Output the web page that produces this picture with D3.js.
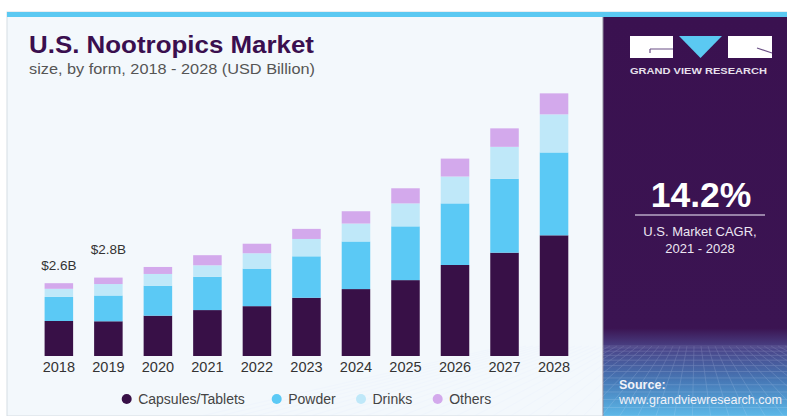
<!DOCTYPE html>
<html>
<head>
<meta charset="utf-8">
<script src="https://cdn.jsdelivr.net/npm/d3@7"></script>
<style>
  html, body { margin: 0; padding: 0; background: #ffffff; }
  svg { display: block; }
  text { font-family: "Liberation Sans", Arial, sans-serif; }
</style>
</head>
<body>
<svg id="chart" width="787" height="416"></svg>
<script>
// U.S. nootropics market size by form (USD billion)
const years = ["2018", "2019", "2020", "2021", "2022", "2023", "2024", "2025", "2026", "2027", "2028"];
const capsules = [1.25, 1.24, 1.44, 1.64, 1.78, 2.08, 2.39, 2.71, 3.25, 3.69, 4.31];
const powder   = [0.86, 0.92, 1.07, 1.19, 1.34, 1.48, 1.70, 1.92, 2.20, 2.64, 2.96];
const drinks   = [0.29, 0.41, 0.42, 0.41, 0.55, 0.62, 0.64, 0.82, 0.96, 1.14, 1.36];
const others   = [0.20, 0.23, 0.25, 0.36, 0.34, 0.36, 0.44, 0.54, 0.64, 0.66, 0.75];
const seriesNames = ["Capsules/Tablets", "Powder", "Drinks", "Others"];
const valueLabels = [{ year: "2018", text: "$2.6B" }, { year: "2019", text: "$2.8B" }];
const cagrValue = "14.2%";
const cagrLines = ["U.S. Market CAGR,", "2021 - 2028"];

const colors = ["#381047", "#5bc9f5", "#bfe8f9", "#d3a9ec"];

const svg = d3.select("#chart");

// ---- frame ----
svg.append("rect").attr("x", 7).attr("y", 12).attr("width", 780).attr("height", 404)
  .attr("fill", "#f3f8fc").attr("stroke", "#d5dde3").attr("stroke-width", 1);
svg.append("rect").attr("x", 7).attr("y", 12).attr("width", 780).attr("height", 5).attr("fill", "#5bc9f2");

// ---- right panel ----
const defs = svg.append("defs");
const grad = defs.append("linearGradient").attr("id", "panelGrad").attr("x1", 0).attr("y1", 0).attr("x2", 0).attr("y2", 1);
grad.append("stop").attr("offset", "0%").attr("stop-color", "#3a1150");
grad.append("stop").attr("offset", "78%").attr("stop-color", "#3b1452");
grad.append("stop").attr("offset", "83%").attr("stop-color", "#4a4488");
grad.append("stop").attr("offset", "91%").attr("stop-color", "#4677b5");
grad.append("stop").attr("offset", "100%").attr("stop-color", "#5cb8e8");

const px0 = 603, py0 = 17, pw = 184, ph = 399;
svg.append("rect").attr("x", px0).attr("y", py0).attr("width", pw).attr("height", ph).attr("fill", "url(#panelGrad)");
svg.append("line").attr("x1", px0).attr("x2", px0).attr("y1", py0).attr("y2", 416).attr("stroke", "#8f8a9c").attr("stroke-width", 1);

// wireframe floor at the bottom of the panel
const floor = svg.append("g").attr("opacity", 0.22).attr("stroke", "#dfe9ff").attr("stroke-width", 0.7).attr("fill", "none");
const hor = d3.range(0, 14).map(i => 346 + Math.pow(i, 1.45) * 1.9);
hor.forEach(y => { if (y < 416) floor.append("line").attr("x1", px0).attr("x2", 787).attr("y1", y).attr("y2", y); });
d3.range(-14, 30).forEach(i => {
  const xt = px0 + i * 7;
  const xb = 695 + (xt - 695) * 2.6;
  floor.append("line").attr("x1", xt).attr("y1", 346).attr("x2", xb).attr("y2", 416);
});

// logo
const logo = svg.append("g");
logo.append("rect").attr("x", 630).attr("y", 36).attr("width", 43).attr("height", 22).attr("fill", "#ffffff");
logo.append("path").attr("d", "M650,49 L673,49 M650,49 L650,53").attr("stroke", "#6b4f85").attr("stroke-width", 1.2).attr("fill", "none");
logo.append("path").attr("d", "M679,36 L722,36 L700.5,58 Z").attr("fill", "#5bc9f2");
logo.append("rect").attr("x", 728).attr("y", 36).attr("width", 44).attr("height", 22).attr("fill", "#ffffff");
logo.append("path").attr("d", "M757,48 L772,53").attr("stroke", "#6b4f85").attr("stroke-width", 1.2).attr("fill", "none");
logo.append("text").attr("x", 630).attr("y", 73.5).attr("font-size", 8.6).attr("font-weight", "bold")
  .attr("fill", "#e6e0ec").attr("textLength", 137).attr("lengthAdjust", "spacingAndGlyphs").text("GRAND VIEW RESEARCH");

// CAGR callout
svg.append("text").attr("x", 701).attr("y", 206.5).attr("text-anchor", "middle")
  .attr("font-size", 35.5).attr("font-weight", "bold").attr("fill", "#ffffff").text(cagrValue);
svg.append("line").attr("x1", 635).attr("x2", 765).attr("y1", 215).attr("y2", 215).attr("stroke", "#b9a9c6").attr("stroke-width", 1.4);
cagrLines.forEach((t, i) => {
  svg.append("text").attr("x", 700).attr("y", 236 + i * 17).attr("text-anchor", "middle")
    .attr("font-size", 13).attr("fill", "#ece6f1").text(t);
});

// source
svg.append("text").attr("x", 619).attr("y", 388.5).attr("font-size", 12.5).attr("font-weight", "bold").attr("fill", "#f2f2f8").text("Source:");
svg.append("text").attr("x", 619).attr("y", 403.5).attr("font-size", 12.2).attr("fill", "#f2f2f8")
  .attr("textLength", 163).attr("lengthAdjust", "spacingAndGlyphs").text("www.grandviewresearch.com");

// ---- titles ----
svg.append("text").attr("x", 29).attr("y", 53.3).attr("font-size", 24).attr("font-weight", "bold").attr("fill", "#3a0f4f")
  .attr("textLength", 285).attr("lengthAdjust", "spacingAndGlyphs").text("U.S. Nootropics Market");
svg.append("text").attr("x", 29).attr("y", 74).attr("font-size", 14.5).attr("fill", "#555555")
  .attr("textLength", 286).attr("lengthAdjust", "spacingAndGlyphs").text("size, by form, 2018 - 2028 (USD Billion)");

// ---- stacked bars ----
const rows = years.map((y, i) => ({
  year: y,
  "Capsules/Tablets": capsules[i],
  "Powder": powder[i],
  "Drinks": drinks[i],
  "Others": others[i]
}));
const stack = d3.stack().keys(seriesNames)(rows);

const x = d3.scaleBand().domain(years).range([34.1, 578.8]).paddingInner(0.424).paddingOuter(0.212);
const y = d3.scaleLinear().domain([0, 10]).range([356, 76]);

const barG = svg.append("g");
stack.forEach((layer, k) => {
  barG.append("g").attr("fill", colors[k])
    .selectAll("rect").data(layer).join("rect")
    .attr("x", d => x(d.data.year))
    .attr("width", x.bandwidth())
    .attr("y", d => y(d[1]))
    .attr("height", d => y(d[0]) - y(d[1]));
});

// x axis (labels only)
const xAxis = svg.append("g").attr("transform", "translate(0,357)")
  .call(d3.axisBottom(x).tickSize(0).tickPadding(5));
xAxis.select(".domain").remove();
xAxis.selectAll("text").attr("font-size", 14.5).attr("fill", "#333333")
  .style("font-family", "'Liberation Sans', Arial, sans-serif");

// value labels above the first two bars
const totals = new Map(rows.map(r => [r.year, d3.sum(seriesNames, k => r[k])]));
const labelLift = { "2018": 13, "2019": 24 };
svg.append("g").selectAll("text").data(valueLabels).join("text")
  .attr("x", d => x(d.year) + x.bandwidth() / 2)
  .attr("y", d => y(totals.get(d.year)) - labelLift[d.year])
  .attr("text-anchor", "middle").attr("font-size", 13.5).attr("fill", "#333333")
  .text(d => d.text);

// legend
const legendX = [126.7, 276.7, 361, 437.7];
const legend = svg.append("g");
seriesNames.forEach((name, i) => {
  legend.append("circle").attr("cx", legendX[i]).attr("cy", 399).attr("r", 5).attr("fill", colors[i]);
  legend.append("text").attr("x", legendX[i] + 11.5).attr("y", 403.5).attr("font-size", 14).attr("fill", "#444444").text(name);
});
</script>
</body>
</html>
